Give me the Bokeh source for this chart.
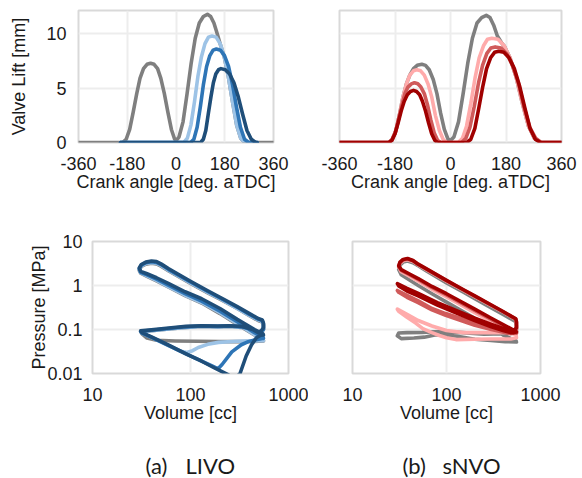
from bokeh.plotting import figure
from bokeh.layouts import column, row
from bokeh.models import FixedTicker, Range1d, Label, CustomJSTickFormatter
from bokeh.embed import file_html
from bokeh.resources import INLINE

# ---------------- Valve lift data (crank angle [deg aTDC], lift [mm]) ----------------
# (a) LIVO
livo_gray_deg = [-360, -197, -184, -171, -158, -145, -133, -120, -107, -94, -81, -68, -56, -43, -30, -17, -5, 1,
                 11, 26, 41, 56, 71, 86, 101, 116, 128, 140, 150, 163, 178, 193, 209, 224, 239, 254, 360]
livo_gray_lift = [0, 0, 0.3, 1.2, 2.8, 4.5, 5.9, 6.8, 7.2, 7.3, 7.2, 6.8, 5.9, 4.5, 2.8, 1.2, 0.3, 0.2,
                  0.5, 1.9, 4.5, 7.3, 9.6, 11.0, 11.6, 11.8, 11.6, 11.0, 10.2, 9.1, 7.9, 6.1, 3.7, 1.6, 0.4, 0, 0]
livo_light_deg = [-205, 29, 42, 55, 68, 81, 94, 107, 120, 133, 148, 163, 178, 193, 209, 224, 239, 254, 300]
livo_light_lift = [0, 0, 0.4, 1.6, 3.7, 6.1, 7.9, 9.1, 9.7, 9.8, 9.7, 9.1, 7.9, 6.1, 3.7, 1.6, 0.4, 0, 0]
livo_mid_deg = [-205, 54, 66, 78, 90, 101, 113, 125, 137, 149, 164, 179, 194, 209, 223, 238, 253, 268, 300]
livo_mid_lift = [0, 0, 0.3, 1.4, 3.3, 5.3, 7.0, 8.0, 8.5, 8.6, 8.5, 8.0, 7.0, 5.3, 3.3, 1.4, 0.3, 0, 0]
livo_dark_deg = [-205, 91, 101, 110, 119, 129, 138, 147, 157, 166, 182, 198, 214, 230, 246, 262, 278, 294, 300]
livo_dark_lift = [0, 0, 0.3, 1.1, 2.6, 4.2, 5.5, 6.3, 6.7, 6.8, 6.7, 6.3, 5.5, 4.2, 2.6, 1.1, 0.3, 0, 0]

# (b) sNVO
snvo_gray_deg = [-360, -200, -189, -177, -166, -154, -143, -132, -120, -108, -93, -81, -69, -56, -44, -32, -20, -8, 1,
                 11, 26, 41, 56, 71, 86, 101, 116, 128, 140, 152, 165, 174, 193, 213, 233, 253, 272, 292, 360]
snvo_gray_lift = [0, 0, 0.3, 1.1, 2.5, 4.2, 5.4, 6.2, 6.8, 7.1, 7.2, 7.1, 6.7, 5.8, 4.5, 2.7, 1.2, 0.3, 0.2,
                  0.5, 1.9, 4.5, 7.3, 9.6, 11.0, 11.5, 11.7, 11.5, 10.8, 9.8, 9.2, 8.9, 7.8, 6.0, 3.6, 1.5, 0.4, 0, 0]
snvo_light_deg = [-360, -200, -189, -177, -166, -154, -143, -132, -120, -109, -97, -85, -73, -61, -49, -36, -24, -12,
                  25, 39, 52, 66, 80, 93, 107, 120, 134, 154, 174, 193, 213, 233, 253, 272, 292, 360]
snvo_light_lift = [0, 0, 0.3, 1.1, 2.5, 4.2, 5.4, 6.2, 6.6, 6.7, 6.6, 6.2, 5.4, 4.2, 2.5, 1.1, 0.3, 0,
                   0, 0.4, 1.5, 3.6, 6.0, 7.8, 8.9, 9.5, 9.6, 9.5, 8.9, 7.8, 6.0, 3.6, 1.5, 0.4, 0, 0]
snvo_mid_deg = [-360, -200, -190, -179, -169, -158, -148, -138, -127, -117, -106, -96, -85, -74, -64, -53, -42, -32,
                36, 50, 63, 77, 91, 104, 118, 131, 145, 164, 182, 201, 220, 238, 257, 276, 294, 360]
snvo_mid_lift = [0, 0, 0.2, 0.9, 2.1, 3.4, 4.5, 5.1, 5.4, 5.5, 5.4, 5.1, 4.5, 3.4, 2.1, 0.9, 0.2, 0,
                 0, 0.4, 1.4, 3.3, 5.5, 7.1, 8.2, 8.7, 8.8, 8.7, 8.2, 7.1, 5.5, 3.3, 1.4, 0.4, 0, 0]
snvo_dark_deg = [-360, -200, -190, -180, -170, -160, -150, -140, -130, -120, -110, -100, -91, -81, -71, -61, -51, -42,
                 53, 66, 79, 92, 105, 117, 130, 143, 156, 173, 190, 207, 224, 241, 258, 275, 292, 360]
snvo_dark_lift = [0, 0, 0.2, 0.8, 1.8, 2.9, 3.8, 4.4, 4.7, 4.8, 4.7, 4.4, 3.8, 2.9, 1.8, 0.8, 0.2, 0,
                  0, 0.3, 1.3, 3.2, 5.2, 6.8, 7.8, 8.3, 8.4, 8.3, 7.8, 6.8, 5.2, 3.2, 1.3, 0.3, 0, 0]

# ---------------- P-V data (volume [cc], pressure [MPa]) ----------------
loop_v_a = [555, 550, 450, 300, 200, 130, 88, 60, 45, 36, 31, 30, 31.5, 35, 40, 45, 50, 60,
            100, 150, 200, 300, 400, 490, 540, 555, 555, 530, 490, 430, 330, 250, 190, 130, 90, 60, 40, 31]
livo_dark_v = loop_v_a + [32, 40, 60, 90, 130, 180, 244, 280, 320, 370, 420, 470, 520, 555]
livo_dark_p = [0.075, 0.08, 0.1, 0.17, 0.3, 0.5, 0.72, 1.1, 1.5, 1.85, 2.1, 2.5, 3.0, 3.4, 3.6, 3.5, 3.1, 2.4,
               1.25, 0.76, 0.54, 0.33, 0.23, 0.178, 0.165, 0.14, 0.11, 0.095, 0.085, 0.1, 0.118, 0.122, 0.12, 0.122,
               0.118, 0.108, 0.098, 0.093,
               0.085, 0.068, 0.044, 0.028, 0.019, 0.013, 0.0093, 0.0075, 0.01, 0.025, 0.045, 0.065, 0.074, 0.075]
livo_mid_v = loop_v_a + [32, 40, 60, 90, 130, 170, 191, 210, 264, 330, 389, 450, 511, 555]
livo_mid_p = [0.063, 0.066, 0.085, 0.15, 0.26, 0.44, 0.65, 1.0, 1.4, 1.75, 2.0, 2.4, 2.9, 3.3, 3.45, 3.35, 3.0, 2.3,
              1.2, 0.73, 0.52, 0.32, 0.22, 0.172, 0.16, 0.135, 0.1, 0.09, 0.085, 0.1, 0.115, 0.12, 0.118, 0.12,
              0.115, 0.105, 0.096, 0.091,
              0.083, 0.066, 0.043, 0.028, 0.019, 0.0145, 0.0128, 0.016, 0.031, 0.045, 0.053, 0.058, 0.061, 0.063]
livo_light_v = loop_v_a + [32, 40, 60, 80, 92, 105, 120, 150, 193, 300, 450, 555]
livo_light_p = [0.056, 0.058, 0.076, 0.135, 0.24, 0.41, 0.6, 0.93, 1.3, 1.65, 1.95, 2.3, 2.8, 3.15, 3.3, 3.2, 2.85, 2.2,
                1.15, 0.7, 0.5, 0.3, 0.21, 0.165, 0.152, 0.13, 0.1, 0.088, 0.083, 0.097, 0.112, 0.117, 0.115, 0.117,
                0.112, 0.103, 0.094, 0.09,
                0.083, 0.066, 0.043, 0.032, 0.03, 0.033, 0.039, 0.046, 0.051, 0.054, 0.055, 0.056]
livo_gray_v = loop_v_a + [32, 36, 45, 70, 120, 200, 350, 500, 555]
livo_gray_p = [0.055, 0.057, 0.075, 0.13, 0.23, 0.4, 0.59, 0.92, 1.28, 1.62, 1.9, 2.2, 2.7, 3.05, 3.2, 3.1, 2.75, 2.15,
               1.12, 0.68, 0.49, 0.3, 0.205, 0.16, 0.148, 0.125, 0.1, 0.088, 0.083, 0.097, 0.112, 0.117, 0.115, 0.117,
               0.112, 0.103, 0.094, 0.09,
               0.08, 0.064, 0.057, 0.055, 0.054, 0.053, 0.053, 0.054, 0.055]

loop_v_b = [555, 550, 400, 300, 200, 100, 70, 50, 40, 33, 31, 32, 34.5, 38.5, 44, 50, 60,
            100, 150, 200, 300, 400, 546, 555, 555]
snvo_dark_v = loop_v_b + [520, 430, 300, 200, 126, 80, 50, 38, 30, 31, 38, 50, 80, 126, 200, 300, 400, 480, 520, 555]
snvo_dark_p = [0.088, 0.09, 0.13, 0.18, 0.29, 0.65, 0.95, 1.44, 1.85, 2.3, 2.8, 3.4, 3.9, 4.1, 3.7, 3.05, 2.45,
               1.31, 0.81, 0.58, 0.36, 0.257, 0.175, 0.15, 0.11,
               0.095, 0.1, 0.13, 0.18, 0.27, 0.41, 0.66, 0.86, 1.1, 0.98, 0.75, 0.58, 0.36, 0.24, 0.16, 0.115,
               0.095, 0.085, 0.085, 0.088]
snvo_mid_v = loop_v_b + [520, 430, 394, 300, 200, 98, 70, 50, 38, 30, 31, 38, 50, 70, 98, 200, 300, 394, 480, 555]
snvo_mid_p = [0.083, 0.085, 0.12, 0.17, 0.27, 0.61, 0.9, 1.38, 1.78, 2.2, 2.7, 3.3, 3.8, 4.0, 3.65, 3.0, 2.42,
              1.29, 0.8, 0.57, 0.355, 0.253, 0.172, 0.145, 0.105,
              0.09, 0.093, 0.095, 0.11, 0.14, 0.23, 0.3, 0.45, 0.6, 0.77, 0.7, 0.54, 0.41, 0.28, 0.21, 0.125,
              0.1, 0.088, 0.08, 0.083]
snvo_light_v = loop_v_b + [520, 400, 250, 150, 100, 70, 50, 38, 30, 31, 38, 47, 56, 70, 84, 100, 126, 200, 300, 483, 555]
snvo_light_p = [0.065, 0.075, 0.105, 0.15, 0.24, 0.55, 0.82, 1.25, 1.65, 2.05, 2.6, 3.2, 3.65, 3.85, 3.5, 2.95, 2.35,
                1.26, 0.78, 0.56, 0.35, 0.25, 0.17, 0.14, 0.1,
                0.088, 0.085, 0.085, 0.085, 0.095, 0.12, 0.16, 0.22, 0.29, 0.26, 0.19, 0.14, 0.105, 0.085, 0.073,
                0.065, 0.059, 0.06, 0.061, 0.061, 0.065]
snvo_gray_v = loop_v_b + [540, 400, 250, 150, 87, 55, 38, 31, 30, 33, 45, 58, 75, 100, 131, 200, 296, 420, 555]
snvo_gray_p = [0.052, 0.055, 0.075, 0.11, 0.18, 0.42, 0.65, 1.0, 1.35, 1.75, 2.3, 2.9, 3.4, 3.6, 3.3, 2.8, 2.2,
               1.15, 0.71, 0.5, 0.31, 0.22, 0.15, 0.12, 0.09,
               0.085, 0.08, 0.078, 0.085, 0.09, 0.086, 0.085, 0.083, 0.072, 0.062, 0.064, 0.067, 0.075, 0.075,
               0.07, 0.06, 0.056, 0.053, 0.052]

# ---------------- ticks / labels ----------------
angle_ticks = [-360, -180, 0, 180, 360]
lift_ticks = [0, 5, 10]
vol_ticks = [10, 100, 1000]
pres_ticks = [0.01, 0.1, 1, 10]
captions = [("(a)", "LIVO"), ("(b)", "sNVO")]

GRAY = "#7f7f7f"
BLUES = ["#9dc3e6", "#2e75b6", "#1f4e79"]
REDS = ["#ffabab", "#d05a5a", "#a00000"]
FONT = "Liberation Sans"
TXT = "#1a1a1a"
LW = 3.6

fmt = CustomJSTickFormatter(code="return String(tick);")


def make_fig(bl, fw, br, bt, fh, bb, xr, yr, log=False):
    kw = {}
    if log:
        kw = dict(x_axis_type="log", y_axis_type="log")
    p = figure(frame_width=fw, frame_height=fh, min_border_left=bl, min_border_right=br,
               min_border_top=bt, min_border_bottom=bb, x_range=Range1d(*xr), y_range=Range1d(*yr),
               output_backend="svg", toolbar_location=None, **kw)
    p.outline_line_color = "#d9d9d9"
    p.outline_line_width = 2
    p.background_fill_color = "white"
    p.border_fill_color = "white"
    for ax in p.axis:
        ax.axis_line_color = None
        ax.major_tick_line_color = None
        ax.minor_tick_line_color = None
        ax.major_tick_out = 0
        ax.major_tick_in = 0
        ax.major_label_text_font = FONT
        ax.major_label_text_font_size = "18px"
        ax.major_label_text_color = TXT
        ax.axis_label_text_font = FONT
        ax.axis_label_text_font_size = "18px"
        ax.axis_label_text_font_style = "normal"
        ax.axis_label_text_color = TXT
        ax.formatter = fmt
    for g in (p.xgrid, p.ygrid):
        g.grid_line_color = "#ededed"
        g.grid_line_width = 2
    return p


def lift_fig(bl, fw, br, show_y):
    p = make_fig(bl, fw, br, 10, 132, 84, (-360, 360), (0, 12.15))
    p.xaxis.ticker = FixedTicker(ticks=angle_ticks)
    p.yaxis.ticker = FixedTicker(ticks=lift_ticks)
    p.xgrid.ticker = FixedTicker(ticks=angle_ticks)
    p.ygrid.ticker = FixedTicker(ticks=lift_ticks)
    p.xaxis.axis_label = "Crank angle [deg. aTDC]"
    p.xaxis.major_label_standoff = 14
    p.xaxis.axis_label_standoff = -1
    if show_y:
        p.yaxis.axis_label = "Valve Lift [mm]"
        p.yaxis.major_label_standoff = 12
        p.yaxis.axis_label_standoff = 14
    else:
        p.yaxis.visible = False
    return p


def pv_fig(bl, fw, br, show_y):
    p = make_fig(bl, fw, br, 15, 132, 55, (10, 1000), (0.01, 10), log=True)
    p.xaxis.ticker = FixedTicker(ticks=vol_ticks)
    p.yaxis.ticker = FixedTicker(ticks=pres_ticks)
    p.xgrid.ticker = FixedTicker(ticks=vol_ticks)
    p.ygrid.ticker = FixedTicker(ticks=pres_ticks)
    p.xaxis.axis_label = "Volume [cc]"
    p.xaxis.major_label_standoff = 14
    p.xaxis.axis_label_standoff = -1
    if show_y:
        p.yaxis.axis_label = "Pressure [MPa]"
        p.yaxis.major_label_standoff = 10
        p.yaxis.axis_label_standoff = -5
    else:
        p.yaxis.visible = False
    return p


def draw(p, xs, ys, colors):
    for x, y, c in zip(xs, ys, colors):
        p.line(x, y, line_color=c, line_width=LW, line_join="round", line_cap="round")


p1 = lift_fig(78, 195, 18, True)
draw(p1, [livo_gray_deg, livo_light_deg, livo_mid_deg, livo_dark_deg],
     [livo_gray_lift, livo_light_lift, livo_mid_lift, livo_dark_lift], [GRAY] + BLUES)

p2 = lift_fig(48, 222, 21, False)
draw(p2, [snvo_gray_deg, snvo_light_deg, snvo_mid_deg, snvo_dark_deg],
     [snvo_gray_lift, snvo_light_lift, snvo_mid_lift, snvo_dark_lift], [GRAY] + REDS)

p3 = pv_fig(92, 196, 20, True)
draw(p3, [livo_gray_v, livo_light_v, livo_mid_v, livo_dark_v],
     [livo_gray_p, livo_light_p, livo_mid_p, livo_dark_p], [GRAY] + BLUES)

p4 = pv_fig(44, 188, 42, False)
draw(p4, [snvo_gray_v, snvo_light_v, snvo_mid_v, snvo_dark_v],
     [snvo_gray_p, snvo_light_p, snvo_mid_p, snvo_dark_p], [GRAY] + REDS)

cap = figure(width=582, height=50, x_range=Range1d(0, 582), y_range=Range1d(0, 50),
             output_backend="svg", toolbar_location=None, min_border=0)
cap.axis.visible = False
cap.grid.visible = False
cap.outline_line_color = None
cap_x = [(145, 185), (402, 442)]
for (tag, name), (x1, x2) in zip(captions, cap_x):
    for txt, xx in ((tag, x1), (name, x2)):
        cap.add_layout(Label(x=xx, y=13, text=txt, text_align="left", text_baseline="middle",
                             text_font="Lato", text_font_size="22px", text_color=TXT))

layout = column(row(p1, p2), row(p3, p4), cap)
open("out.html", "w").write(file_html(layout, INLINE))
